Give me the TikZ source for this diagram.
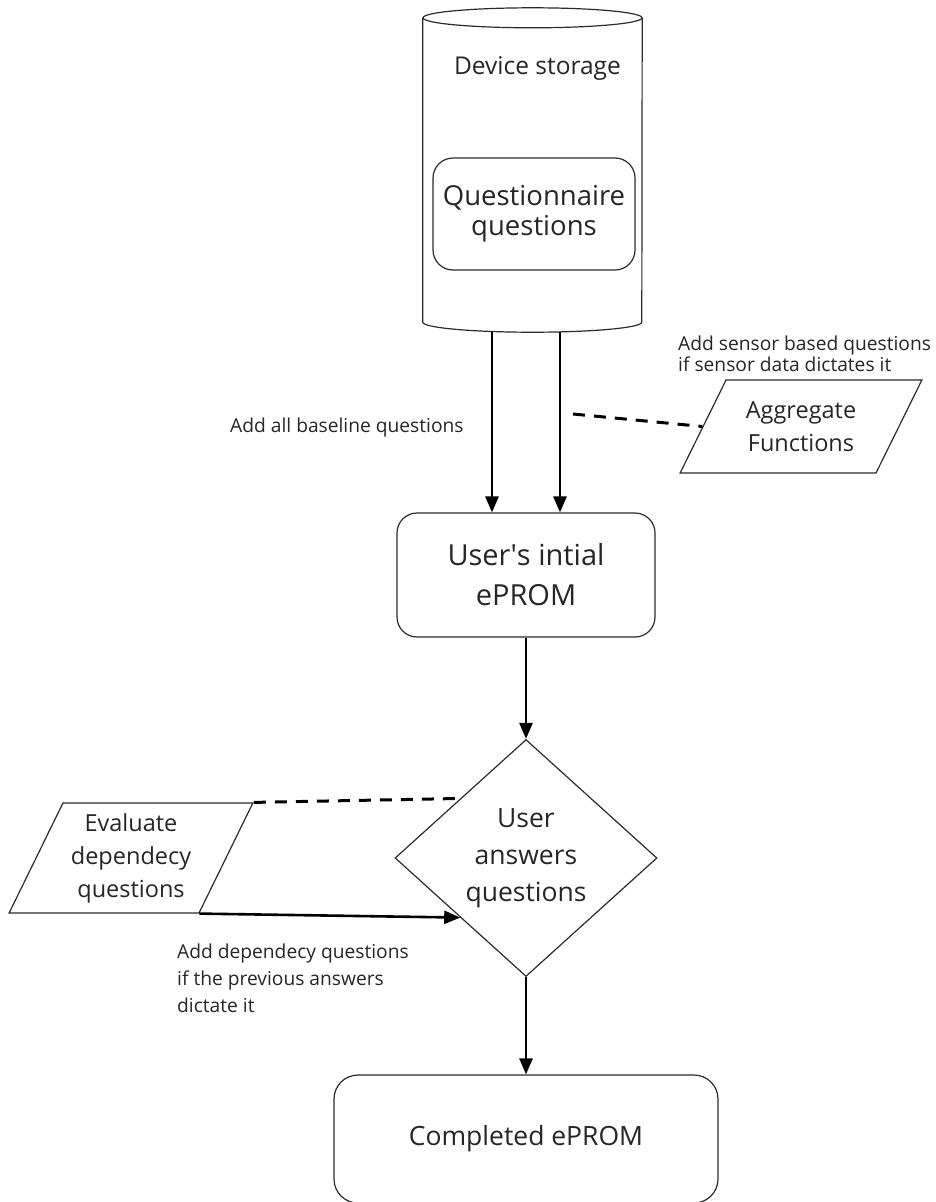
\documentclass[tikz,border=0pt]{standalone}
\usepackage{fontspec}
\setmainfont{Open Sans}
\usetikzlibrary{arrows.meta, shapes.geometric}
\definecolor{clrLine}{HTML}{2B2B2B}
\definecolor{clrText}{HTML}{262626}

\begin{document}
\begin{tikzpicture}[
  x=1pt, y=-1pt,
  box/.style = {
    rectangle, rounded corners=20pt,
    draw=clrLine, line width=1.2pt, text=clrText,
    font=\fontsize{29}{40}\selectfont, align=center, inner sep=0pt
  },
  io/.style = {
    trapezium, trapezium stretches=true,
    draw=clrLine, line width=1.2pt, text=clrText,
    font=\fontsize{23.5}{33}\selectfont, align=center, inner sep=0pt
  },
  dec/.style = {
    diamond,
    draw=clrLine, line width=1.2pt, text=clrText,
    font=\fontsize{26.5}{37}\selectfont, align=center, inner sep=0pt
  },
  lbl/.style = {text=clrText, align=left, inner sep=0pt, anchor=west},
  arr/.style = {-{Triangle[length=16pt, width=13pt]}, line width=2.6pt, color=black},
  dsh/.style = {line width=3pt, dash pattern=on 12pt off 9pt, color=black}
]
  \useasboundingbox (0,0) rectangle (935,1202);

  \node[minimum width=219pt, minimum height=324pt, inner sep=0pt] (storage) at (532.5,170) {};
  \draw[clrLine, line width=1.2pt] ([yshift=-10pt]storage.north west) -- ([yshift=10pt]storage.south west)
    arc[start angle=180, end angle=360, x radius=109.5pt, y radius=10pt] -- ([yshift=-10pt]storage.north east);
  \draw[clrLine, line width=1.2pt] ([yshift=-10pt]storage.north) ellipse[x radius=109.5pt, y radius=10pt];

  \node[text=clrText, font=\fontsize{24.5}{30}\selectfont] (storagelbl) at (537.5,68) {Device storage};
  \node[box, minimum width=202pt, minimum height=112pt, font=\fontsize{27.5}{30}\selectfont] (qbank) at (534,214) {Questionnaire\\questions};
  \node[box, minimum width=258pt, minimum height=124pt] (initial) at (526,575) {User\textquotesingle s intial\\ePROM};
  \node[dec, minimum width=262pt, minimum height=237pt] (answer) at (526,858) {User\\answers\\questions};
  \node[box, minimum width=384pt, minimum height=128pt, rounded corners=24pt, font=\fontsize{26.5}{36}\selectfont] (done) at (526,1139) {Completed ePROM};
  \node[io, trapezium left angle=56, trapezium right angle=124, minimum width=242pt, minimum height=93pt] (aggr) at (801,426.5) {Aggregate\\Functions};
  \node[io, trapezium left angle=62, trapezium right angle=118, minimum width=244pt, minimum height=110pt] (evalq) at (131,858) {Evaluate\\dependecy\\questions};

  \node[lbl, font=\fontsize{19.2}{24}\selectfont] (lblbase) at (230,428) {Add all baseline questions};
  \node[lbl, font=\fontsize{19.2}{21}\selectfont] (lblsensor) at (678,353.5) {Add sensor based questions\\if sensor data dictates it};
  \node[lbl, font=\fontsize{19.2}{27}\selectfont] (lbldep) at (177,978) {Add dependecy questions\\if the previous answers\\dictate it};

  \coordinate (senstap) at (573,414);

  \draw[arr] ([xshift=-40.5pt]storage.south) -- ([xshift=-40.5pt]storage.south |- initial.north);
  \draw[arr] ([xshift=27.5pt]storage.south) -- ([xshift=27.5pt]storage.south |- initial.north);
  \draw[arr] (initial) -- (answer);
  \draw[arr] (answer) -- (done);
  \draw[arr] (evalq.bottom right corner) -- (answer.south west);
  \draw[dsh] (evalq.top right corner) -- (answer.north west);
  \draw[dsh] (senstap) -- (aggr.west);
\end{tikzpicture}
\end{document}
